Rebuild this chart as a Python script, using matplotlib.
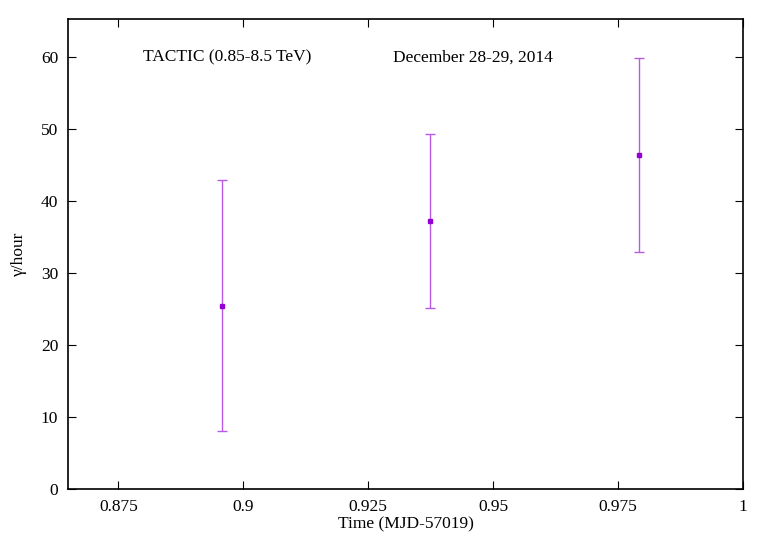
import matplotlib.pyplot as plt

# light curve points
time_mjd = [0.8957, 0.9374, 0.9791]
gamma_rate = [25.4, 37.2, 46.4]
err_low = [8.0, 25.1, 32.9]
err_high = [42.9, 49.3, 59.9]

x_ticks = [0.875, 0.9, 0.925, 0.95, 0.975, 1.0]
x_tick_labels = ['0.875', '0.9', '0.925', '0.95', '0.975', '1']
y_ticks = [0, 10, 20, 30, 40, 50, 60]

plt.rcParams['font.family'] = ['Liberation Serif', 'DejaVu Serif']

fig = plt.figure(figsize=(7.71, 5.40), dpi=100)
ax = fig.add_axes([0.0882, 0.0944, 0.8755, 0.8704])

yerr = [[g - lo for g, lo in zip(gamma_rate, err_low)],
        [hi - g for g, hi in zip(gamma_rate, err_high)]]
ax.errorbar(time_mjd, gamma_rate, yerr=yerr, fmt='s', color='#9400d3',
            ecolor='#b85ae8', elinewidth=1.0, capsize=3.5, capthick=1.0,
            markersize=3)

ax.set_xlim(0.8649, 1.0)
ax.set_ylim(0, 65.3)
ax.set_xticks(x_ticks)
ax.set_xticklabels(x_tick_labels)
ax.set_yticks(y_ticks)
ax.tick_params(direction='in', length=6, width=0.8, top=True, right=True,
               labelsize=12.5, pad=7)
for s in ax.spines.values():
    s.set_linewidth(1.2)

ax.set_xlabel('Time (MJD-57019)', fontsize=12.5, labelpad=1)
ax.set_ylabel('γ/hour', fontsize=12.5, labelpad=10)

ax.text(0.8800, 60, 'TACTIC (0.85-8.5 TeV)', fontsize=12.5, va='center', ha='left')
ax.text(0.9299, 60, 'December 28-29, 2014', fontsize=12.5, va='center', ha='left')

fig.savefig('out.png', dpi=100)
